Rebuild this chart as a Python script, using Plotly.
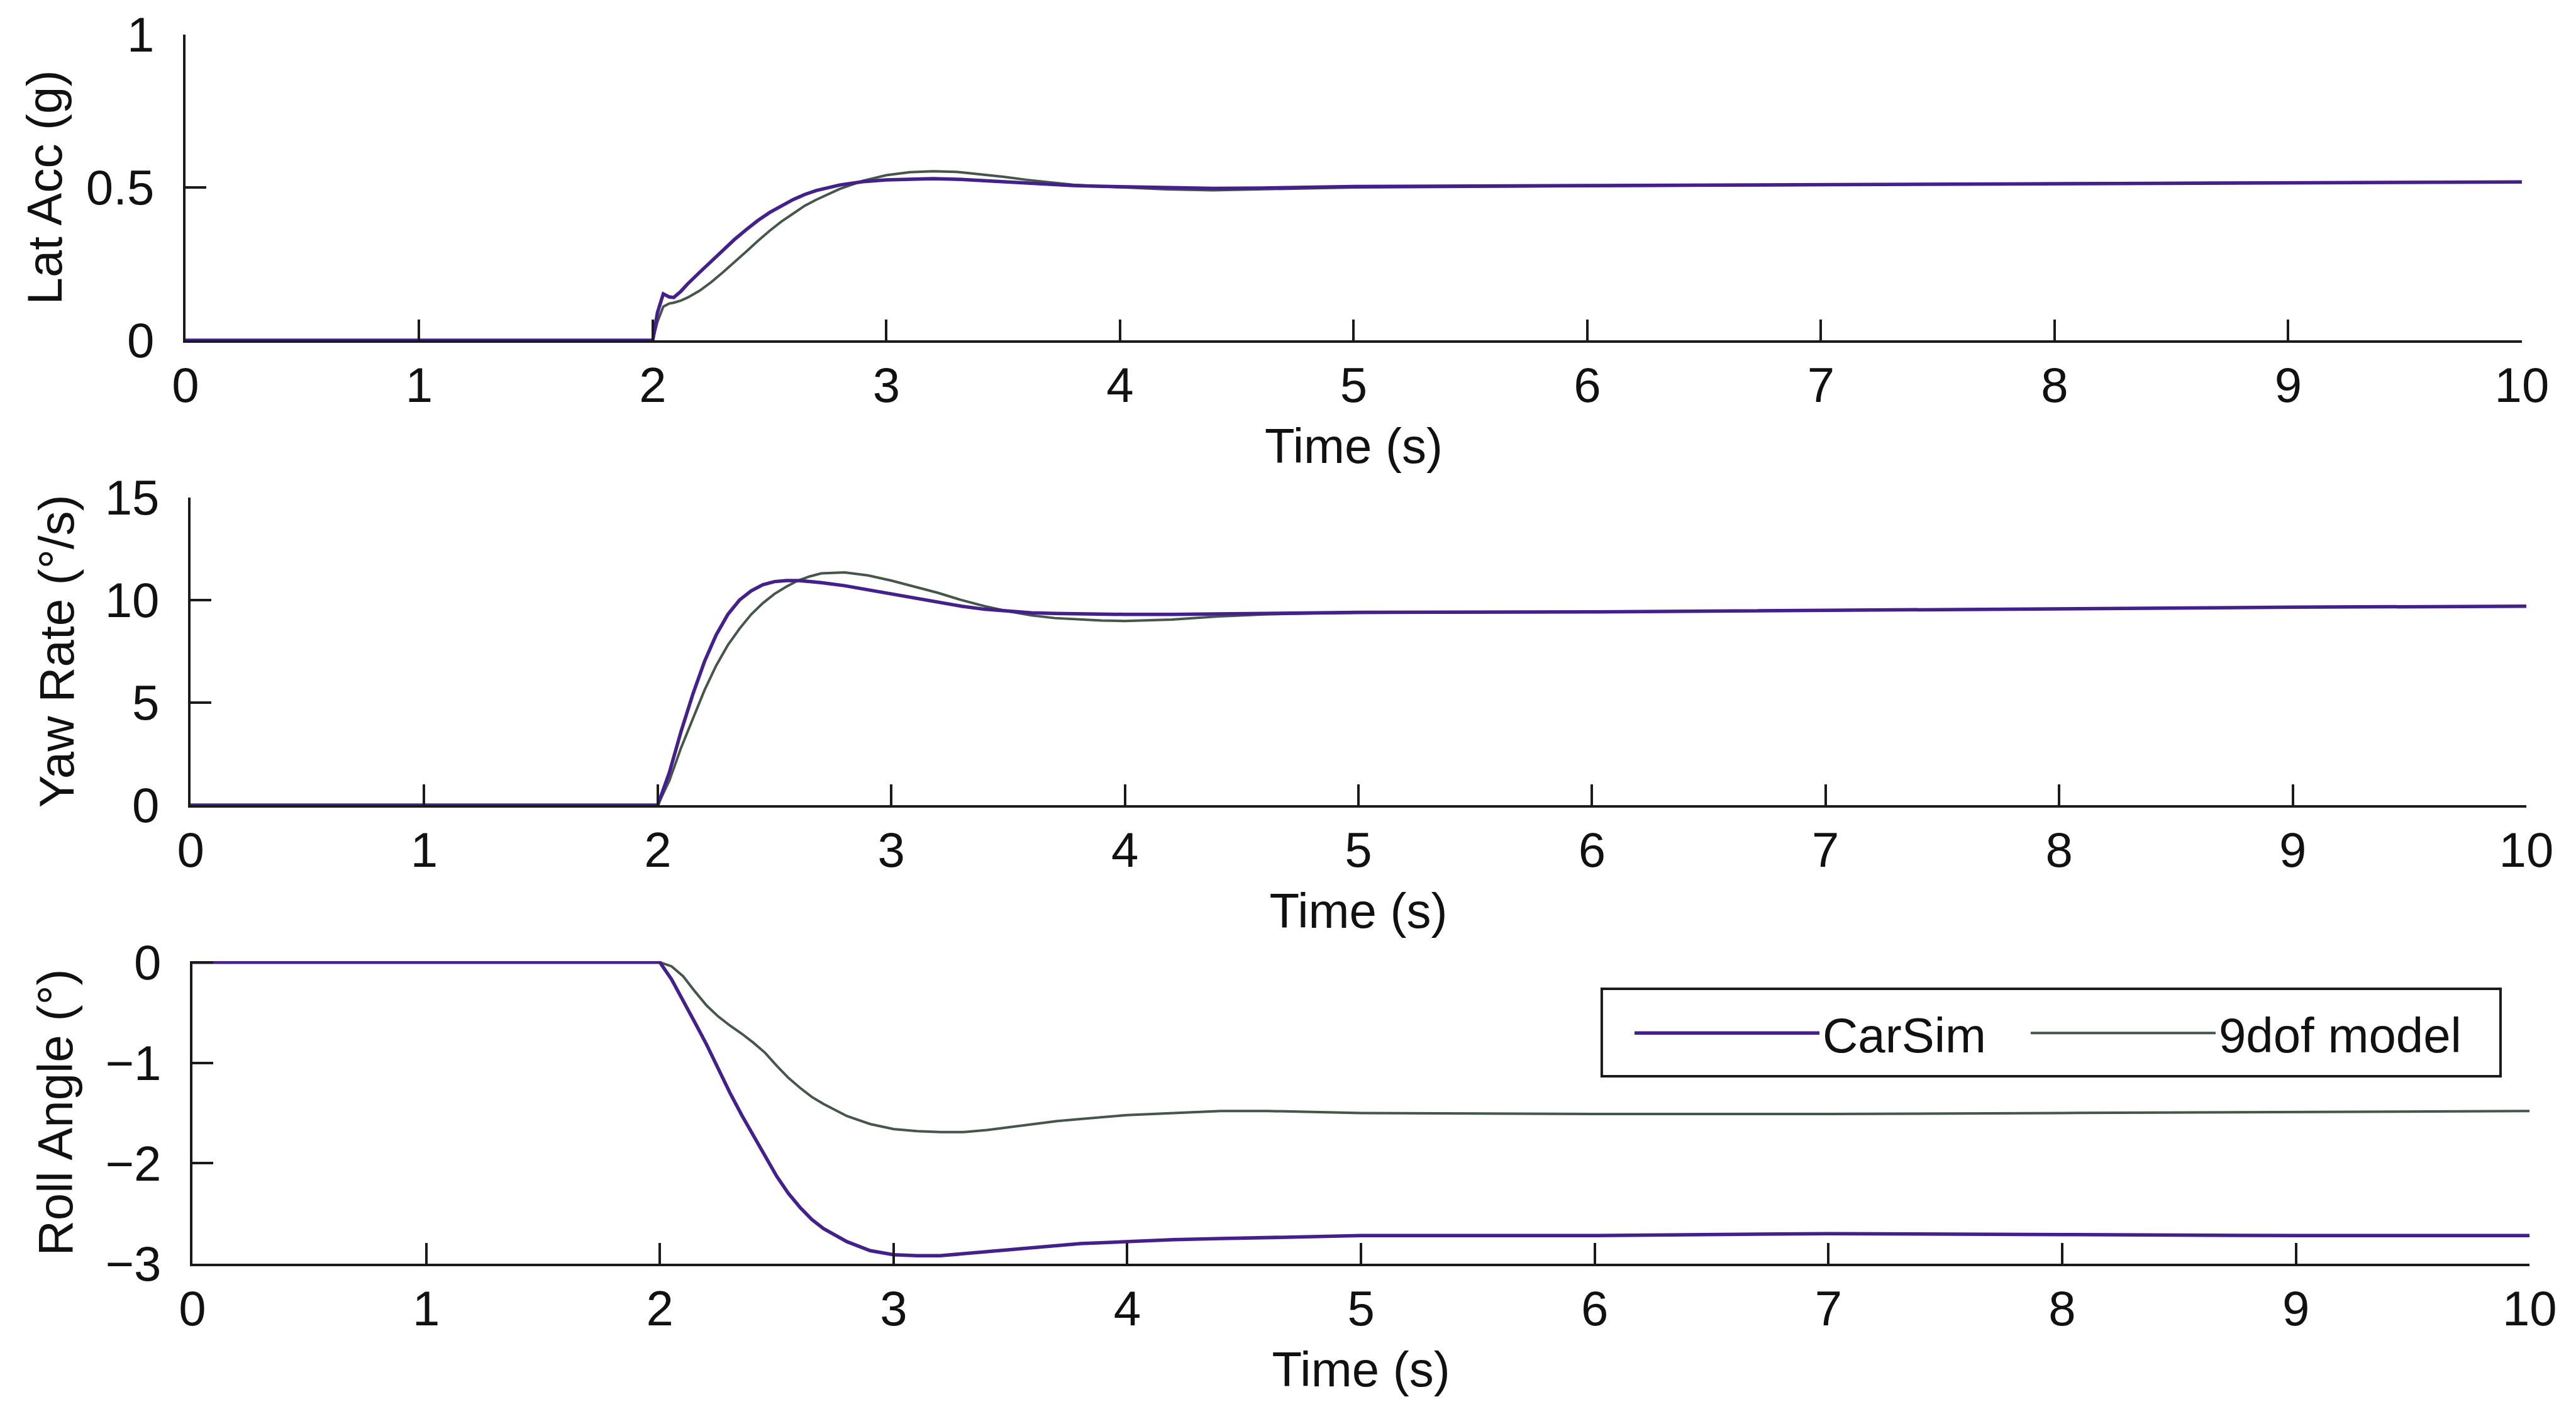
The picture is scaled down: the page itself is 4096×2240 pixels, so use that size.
import plotly.graph_objects as go

# ---------------- data ----------------
t_lat = [0, 2.0, 2.02, 2.045, 2.07, 2.09, 2.12, 2.15, 2.2, 2.25, 2.3, 2.35, 2.4, 2.45, 2.5,
         2.55, 2.6, 2.65, 2.7, 2.8, 2.9, 3.0, 3.1, 3.2, 3.3, 3.4, 3.5, 3.6, 3.7, 3.8, 3.9,
         4.0, 4.2, 4.4, 4.6, 4.8, 5.0, 6.0, 7.0, 8.0, 9.0, 10.0]
lat_carsim = [0, 0, 0.09, 0.152, 0.142, 0.140, 0.160, 0.185, 0.222, 0.258, 0.295, 0.33, 0.362,
              0.392, 0.418, 0.44, 0.46, 0.477, 0.49, 0.508, 0.519, 0.525, 0.528, 0.529, 0.527,
              0.523, 0.518, 0.513, 0.509, 0.506, 0.504, 0.503, 0.499, 0.497, 0.498, 0.501,
              0.503, 0.506, 0.509, 0.513, 0.516, 0.518]
lat_9dof = [0, 0, 0.06, 0.11, 0.12, 0.123, 0.13, 0.14, 0.162, 0.19, 0.222, 0.255, 0.29, 0.325,
            0.358, 0.388, 0.415, 0.44, 0.46, 0.495, 0.522, 0.54, 0.55, 0.553, 0.551, 0.544,
            0.535, 0.525, 0.516, 0.509, 0.504, 0.50, 0.494, 0.491, 0.493, 0.497, 0.50, 0.505,
            0.509, 0.513, 0.516, 0.518]

t_yaw = [0, 2.0, 2.05, 2.1, 2.15, 2.2, 2.25, 2.3, 2.35, 2.4, 2.45, 2.5, 2.55, 2.6, 2.65, 2.7,
         2.8, 2.9, 3.0, 3.1, 3.2, 3.3, 3.4, 3.5, 3.6, 3.7, 3.8, 3.9, 4.0, 4.2, 4.4, 4.6, 4.8,
         5.0, 6.0, 7.0, 8.0, 9.0, 10.0]
yaw_carsim = [0, 0, 1.6, 3.6, 5.4, 7.0, 8.3, 9.3, 10.0, 10.45, 10.75, 10.9, 10.95, 10.95, 10.9,
              10.85, 10.7, 10.5, 10.3, 10.1, 9.9, 9.7, 9.55, 9.45, 9.38, 9.35, 9.32, 9.3, 9.3,
              9.3, 9.32, 9.35, 9.37, 9.4, 9.42, 9.5, 9.6, 9.65, 9.7]
yaw_9dof = [0, 0, 1.2, 2.8, 4.2, 5.6, 6.8, 7.8, 8.6, 9.3, 9.85, 10.3, 10.65, 10.95, 11.15, 11.3,
            11.35, 11.2, 10.95, 10.65, 10.35, 10.0, 9.7, 9.45, 9.25, 9.12, 9.05, 9.0, 8.98,
            9.05, 9.2, 9.3, 9.35, 9.38, 9.42, 9.5, 9.6, 9.65, 9.7]

t_roll = [0, 2.0, 2.05, 2.1, 2.15, 2.2, 2.25, 2.3, 2.35, 2.4, 2.45, 2.5, 2.55, 2.6, 2.65, 2.7,
          2.8, 2.9, 3.0, 3.1, 3.2, 3.3, 3.4, 3.5, 3.6, 3.7, 3.8, 3.9, 4.0, 4.2, 4.4, 4.6, 4.8,
          5.0, 6.0, 7.0, 8.0, 9.0, 10.0]
roll_carsim = [0, 0, -0.17, -0.38, -0.6, -0.82, -1.06, -1.3, -1.52, -1.72, -1.92, -2.13, -2.3,
               -2.44, -2.56, -2.65, -2.78, -2.87, -2.91, -2.92, -2.92, -2.9, -2.88, -2.86, -2.84,
               -2.82, -2.8, -2.79, -2.78, -2.76, -2.75, -2.74, -2.73, -2.72, -2.72, -2.7, -2.71,
               -2.72, -2.72]
roll_9dof = [0, 0, -0.04, -0.14, -0.29, -0.43, -0.54, -0.63, -0.71, -0.8, -0.9, -1.03, -1.15,
             -1.25, -1.34, -1.41, -1.53, -1.61, -1.66, -1.68, -1.69, -1.69, -1.67, -1.64, -1.61,
             -1.58, -1.56, -1.54, -1.52, -1.5, -1.48, -1.48, -1.49, -1.5, -1.51, -1.51, -1.5,
             -1.49, -1.48]

x_ticks = [0, 1, 2, 3, 4, 5, 6, 7, 8, 9, 10]
lat_ticks = [0, 0.5, 1]
yaw_ticks = [0, 5, 10, 15]
roll_ticks = [-3, -2, -1, 0]

series_names = ["CarSim", "9dof model"]
y_titles = ["Lat Acc (g)", "Yaw Rate (°/s)", "Roll Angle (°)"]
x_title = "Time (s)"

# ---------------- styling ----------------
C_CARSIM = "#44208c"
C_9DOF = "#46564a"
AX = "#1a1a1a"
TXT = "#111111"
FONT = "Liberation Sans, Arial, Helvetica, sans-serif"
FS = 78

fig = go.Figure()

panels = [
    (t_lat, lat_carsim, lat_9dof, "x", "y"),
    (t_yaw, yaw_carsim, yaw_9dof, "x2", "y2"),
    (t_roll, roll_carsim, roll_9dof, "x3", "y3"),
]
for i, (t, a, b, xa, ya) in enumerate(panels):
    fig.add_trace(go.Scatter(x=t, y=b, mode="lines", name=series_names[1], xaxis=xa, yaxis=ya,
                             line=dict(color=C_9DOF, width=4), showlegend=(i == 2),
                             legend="legend2"))
    fig.add_trace(go.Scatter(x=t, y=a, mode="lines", name=series_names[0], xaxis=xa, yaxis=ya,
                             line=dict(color=C_CARSIM, width=5.5), showlegend=(i == 2),
                             legend="legend"))

common_x = dict(range=[0, 10], tickvals=x_ticks, ticks="inside", ticklen=33, tickwidth=4,
                tickcolor=AX, showline=True, linewidth=4, linecolor=AX, mirror=False,
                showgrid=False, zeroline=False, ticklabelstandoff=0, automargin=False,
                tickfont=dict(family=FONT, size=FS, color=TXT),
                title=dict(text=x_title, font=dict(family=FONT, size=FS, color=TXT), standoff=28))
common_y = dict(ticks="inside", ticklen=33, tickwidth=4, tickcolor=AX, showline=True,
                linewidth=4, linecolor=AX, mirror=False, showgrid=False, zeroline=False,
                ticklabelstandoff=30, automargin=False,
                tickfont=dict(family=FONT, size=FS, color=TXT))

legend_common = dict(orientation="h", y=0.2924, xanchor="left", yanchor="top",
                     bgcolor="rgba(0,0,0,0)", borderwidth=0,
                     font=dict(family=FONT, size=FS, color=TXT), itemwidth=294)

fig.update_layout(
    width=4096, height=2240,
    margin=dict(l=0, r=0, t=0, b=0, autoexpand=False),
    paper_bgcolor="white", plot_bgcolor="white",
    font=dict(family=FONT, size=FS, color=TXT),
    xaxis=dict(common_x, domain=[0.0720, 0.979], anchor="y"),
    xaxis2=dict(common_x, domain=[0.0740, 0.9807], anchor="y2"),
    xaxis3=dict(common_x, domain=[0.0747, 0.982], anchor="y3"),
    yaxis=dict(common_y, domain=[0.7585, 0.9754], anchor="x", range=[0, 1], tickvals=lat_ticks,
               title=dict(text=y_titles[0], font=dict(family=FONT, size=FS, color=TXT), standoff=14)),
    yaxis2=dict(common_y, domain=[0.4286, 0.6469], anchor="x2", range=[0, 15], tickvals=yaw_ticks,
                title=dict(text=y_titles[1], font=dict(family=FONT, size=FS, color=TXT), standoff=24)),
    yaxis3=dict(common_y, domain=[0.1031, 0.3179], anchor="x3", range=[-3, 0.012], tickvals=roll_ticks,
                title=dict(text=y_titles[2], font=dict(family=FONT, size=FS, color=TXT), standoff=27)),
    legend=dict(legend_common, x=0.6333),
    legend2=dict(legend_common, x=0.7871),
    showlegend=True,
    shapes=[dict(type="rect", xref="paper", yref="paper", x0=0.6218, x1=0.9707,
                 y0=0.2362, y1=0.2982, line=dict(color=AX, width=4), fillcolor="white",
                 layer="above")],
)

fig.write_html("out.html")
